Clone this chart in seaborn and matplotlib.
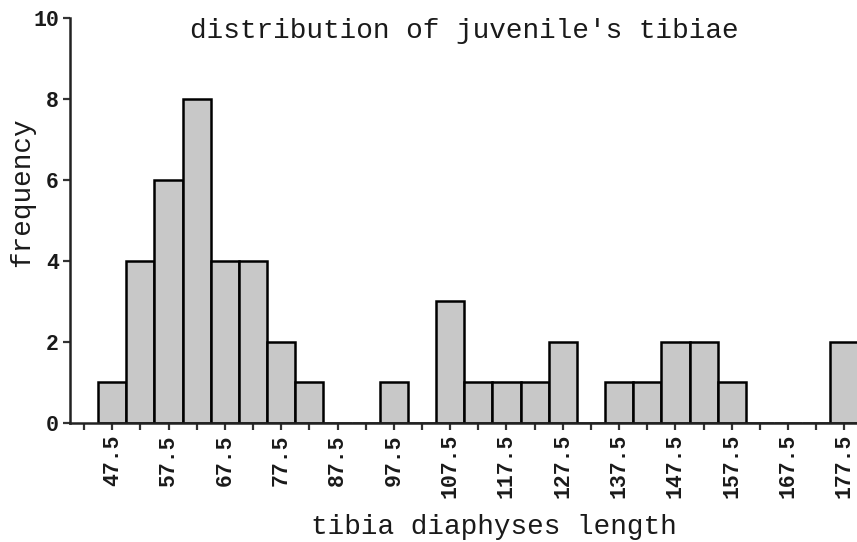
import numpy as np
import pandas as pd
import matplotlib
matplotlib.use("Agg")
import matplotlib.pyplot as plt
import seaborn as sns

# Data (bin midpoints and frequencies, bin width 5)
bin_centers = [47.5, 52.5, 57.5, 62.5, 67.5, 72.5, 77.5, 82.5, 87.5, 92.5,
               97.5, 102.5, 107.5, 112.5, 117.5, 122.5, 127.5, 132.5, 137.5,
               142.5, 147.5, 152.5, 157.5, 162.5, 167.5, 172.5, 177.5]
frequencies = [1, 4, 6, 8, 4, 4, 2, 1, 0, 0,
               1, 0, 3, 1, 1, 1, 2, 0, 1,
               1, 2, 2, 1, 0, 0, 0, 2]
major_ticks = [47.5, 57.5, 67.5, 77.5, 87.5, 97.5, 107.5, 117.5, 127.5,
               137.5, 147.5, 157.5, 167.5, 177.5]
minor_ticks = [42.5, 52.5, 62.5, 72.5, 82.5, 92.5, 102.5, 112.5, 122.5,
               132.5, 142.5, 152.5, 162.5, 172.5]
y_ticks = [0, 2, 4, 6, 8, 10]

title = "distribution of juvenile's tibiae"
xlabel = "tibia diaphyses length"
ylabel = "frequency"

df = pd.DataFrame({"length": bin_centers, "freq": frequencies})

sns.set_style("white")
plt.rcParams['font.family'] = ['Liberation Mono', 'DejaVu Sans Mono']
text_color = "#1a1a1a"

fig = plt.figure(figsize=(8.57, 5.42), dpi=100)
ax = fig.add_axes([0.0817, 0.2196, 0.92, 0.7472])

sns.histplot(data=df, x="length", weights="freq", binwidth=5, binrange=(45, 180),
             ax=ax, color="#c8c8c8", alpha=1.0, edgecolor="black", linewidth=1.8)

ax.set_xlim(40, 180)
ax.set_ylim(0, 10)

ax.set_xticks(major_ticks)
ax.set_xticklabels([f"{v:.1f}" for v in major_ticks], rotation=90,
                   fontsize=15.5, color=text_color, fontweight="bold")
ax.set_xticks(minor_ticks, minor=True)
ax.set_yticks(y_ticks)
ax.set_yticklabels([str(v) for v in y_ticks], fontsize=15.5, color=text_color,
                   fontweight="bold")

ax.tick_params(axis="both", which="both", direction="out", length=5,
               width=1.6, color="#333333", bottom=True, left=True, pad=3)

for s in ["top", "right"]:
    ax.spines[s].set_visible(False)
for s in ["left", "bottom"]:
    ax.spines[s].set_color("#222222")
    ax.spines[s].set_linewidth(1.8)

ax.set_xlabel(xlabel, fontsize=20, color=text_color)
ax.xaxis.set_label_coords(0.538, -0.225)
ax.set_ylabel(ylabel, fontsize=20, color=text_color)
ax.yaxis.set_label_coords(-0.044, 0.57)
ax.set_title(title, fontsize=20, color=text_color, y=0.93)

fig.savefig("out.png", dpi=100)
